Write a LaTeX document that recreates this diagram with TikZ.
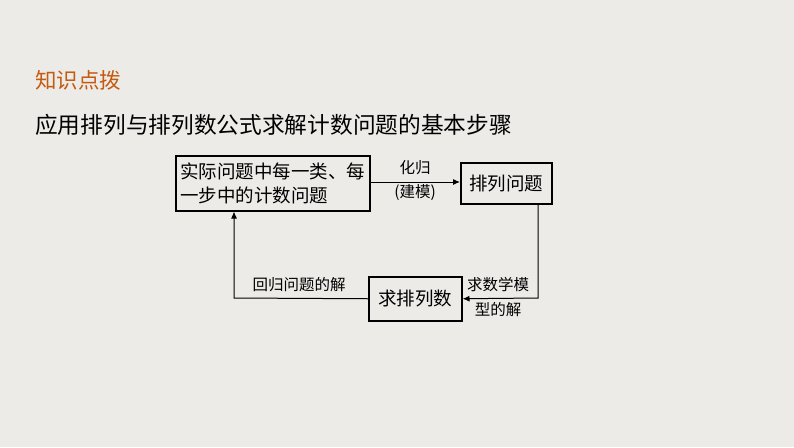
\documentclass[tikz,border=0pt]{standalone}
\usepackage{fontspec}
\setmainfont{Noto Sans CJK SC}
\usetikzlibrary{arrows.meta}
\definecolor{bgColor}{RGB}{236,235,232}
\definecolor{titleColor}{RGB}{197,90,17}
\tikzset{
  stepbox/.style={draw,line width=1.5pt,inner sep=2pt,font=\fontsize{18.5}{24}\selectfont},
  flow/.style={line width=1pt,-{Latex[length=7pt,width=6pt]}},
  lbl/.style={font=\fontsize{15.5}{18}\selectfont,inner sep=0pt}
}
\begin{document}
\begin{tikzpicture}[x=1pt,y=-1pt]
\path[fill=bgColor] (0,0) rectangle (794,447);

\node[anchor=west,text=titleColor,font=\fontsize{21.5}{24}\selectfont,inner sep=0pt] (title) at (35,80) {知识点拨};
\node[anchor=west,font=\fontsize{22.7}{26}\selectfont,inner sep=0pt] (head) at (35,125) {应用排列与排列数公式求解计数问题的基本步骤};

% boxes
\node[stepbox,minimum width=194pt,minimum height=55pt,align=left,anchor=north west] (real) at (175,155) {实际问题中每一类、每\\一步中的计数问题};
\node[stepbox,minimum width=91pt,minimum height=41pt,anchor=north west] (perm) at (460,162) {排列问题};
\node[stepbox,minimum width=93pt,minimum height=44pt,anchor=north west] (count) at (368,276) {求排列数};

\coordinate (c1) at (538,298);
\coordinate (c2) at (234,298);

% connectors
\draw[flow] (real.east |- 0,182) -- (perm.west |- 0,182);
\draw[flow] (perm.south -| c1) -- (c1) -- (count.east);
\draw[flow] (count.west) -- (c2) -- (real.south -| c2);

% labels
\node[lbl] (l1) at (415,168) {化归};
\node[lbl] (l2) at (415,193) {(建模)};
\node[lbl] (l3) at (498,285) {求数学模};
\node[lbl] (l4) at (498,310) {型的解};
\node[lbl] (l5) at (299,285) {回归问题的解};
\end{tikzpicture}
\end{document}
